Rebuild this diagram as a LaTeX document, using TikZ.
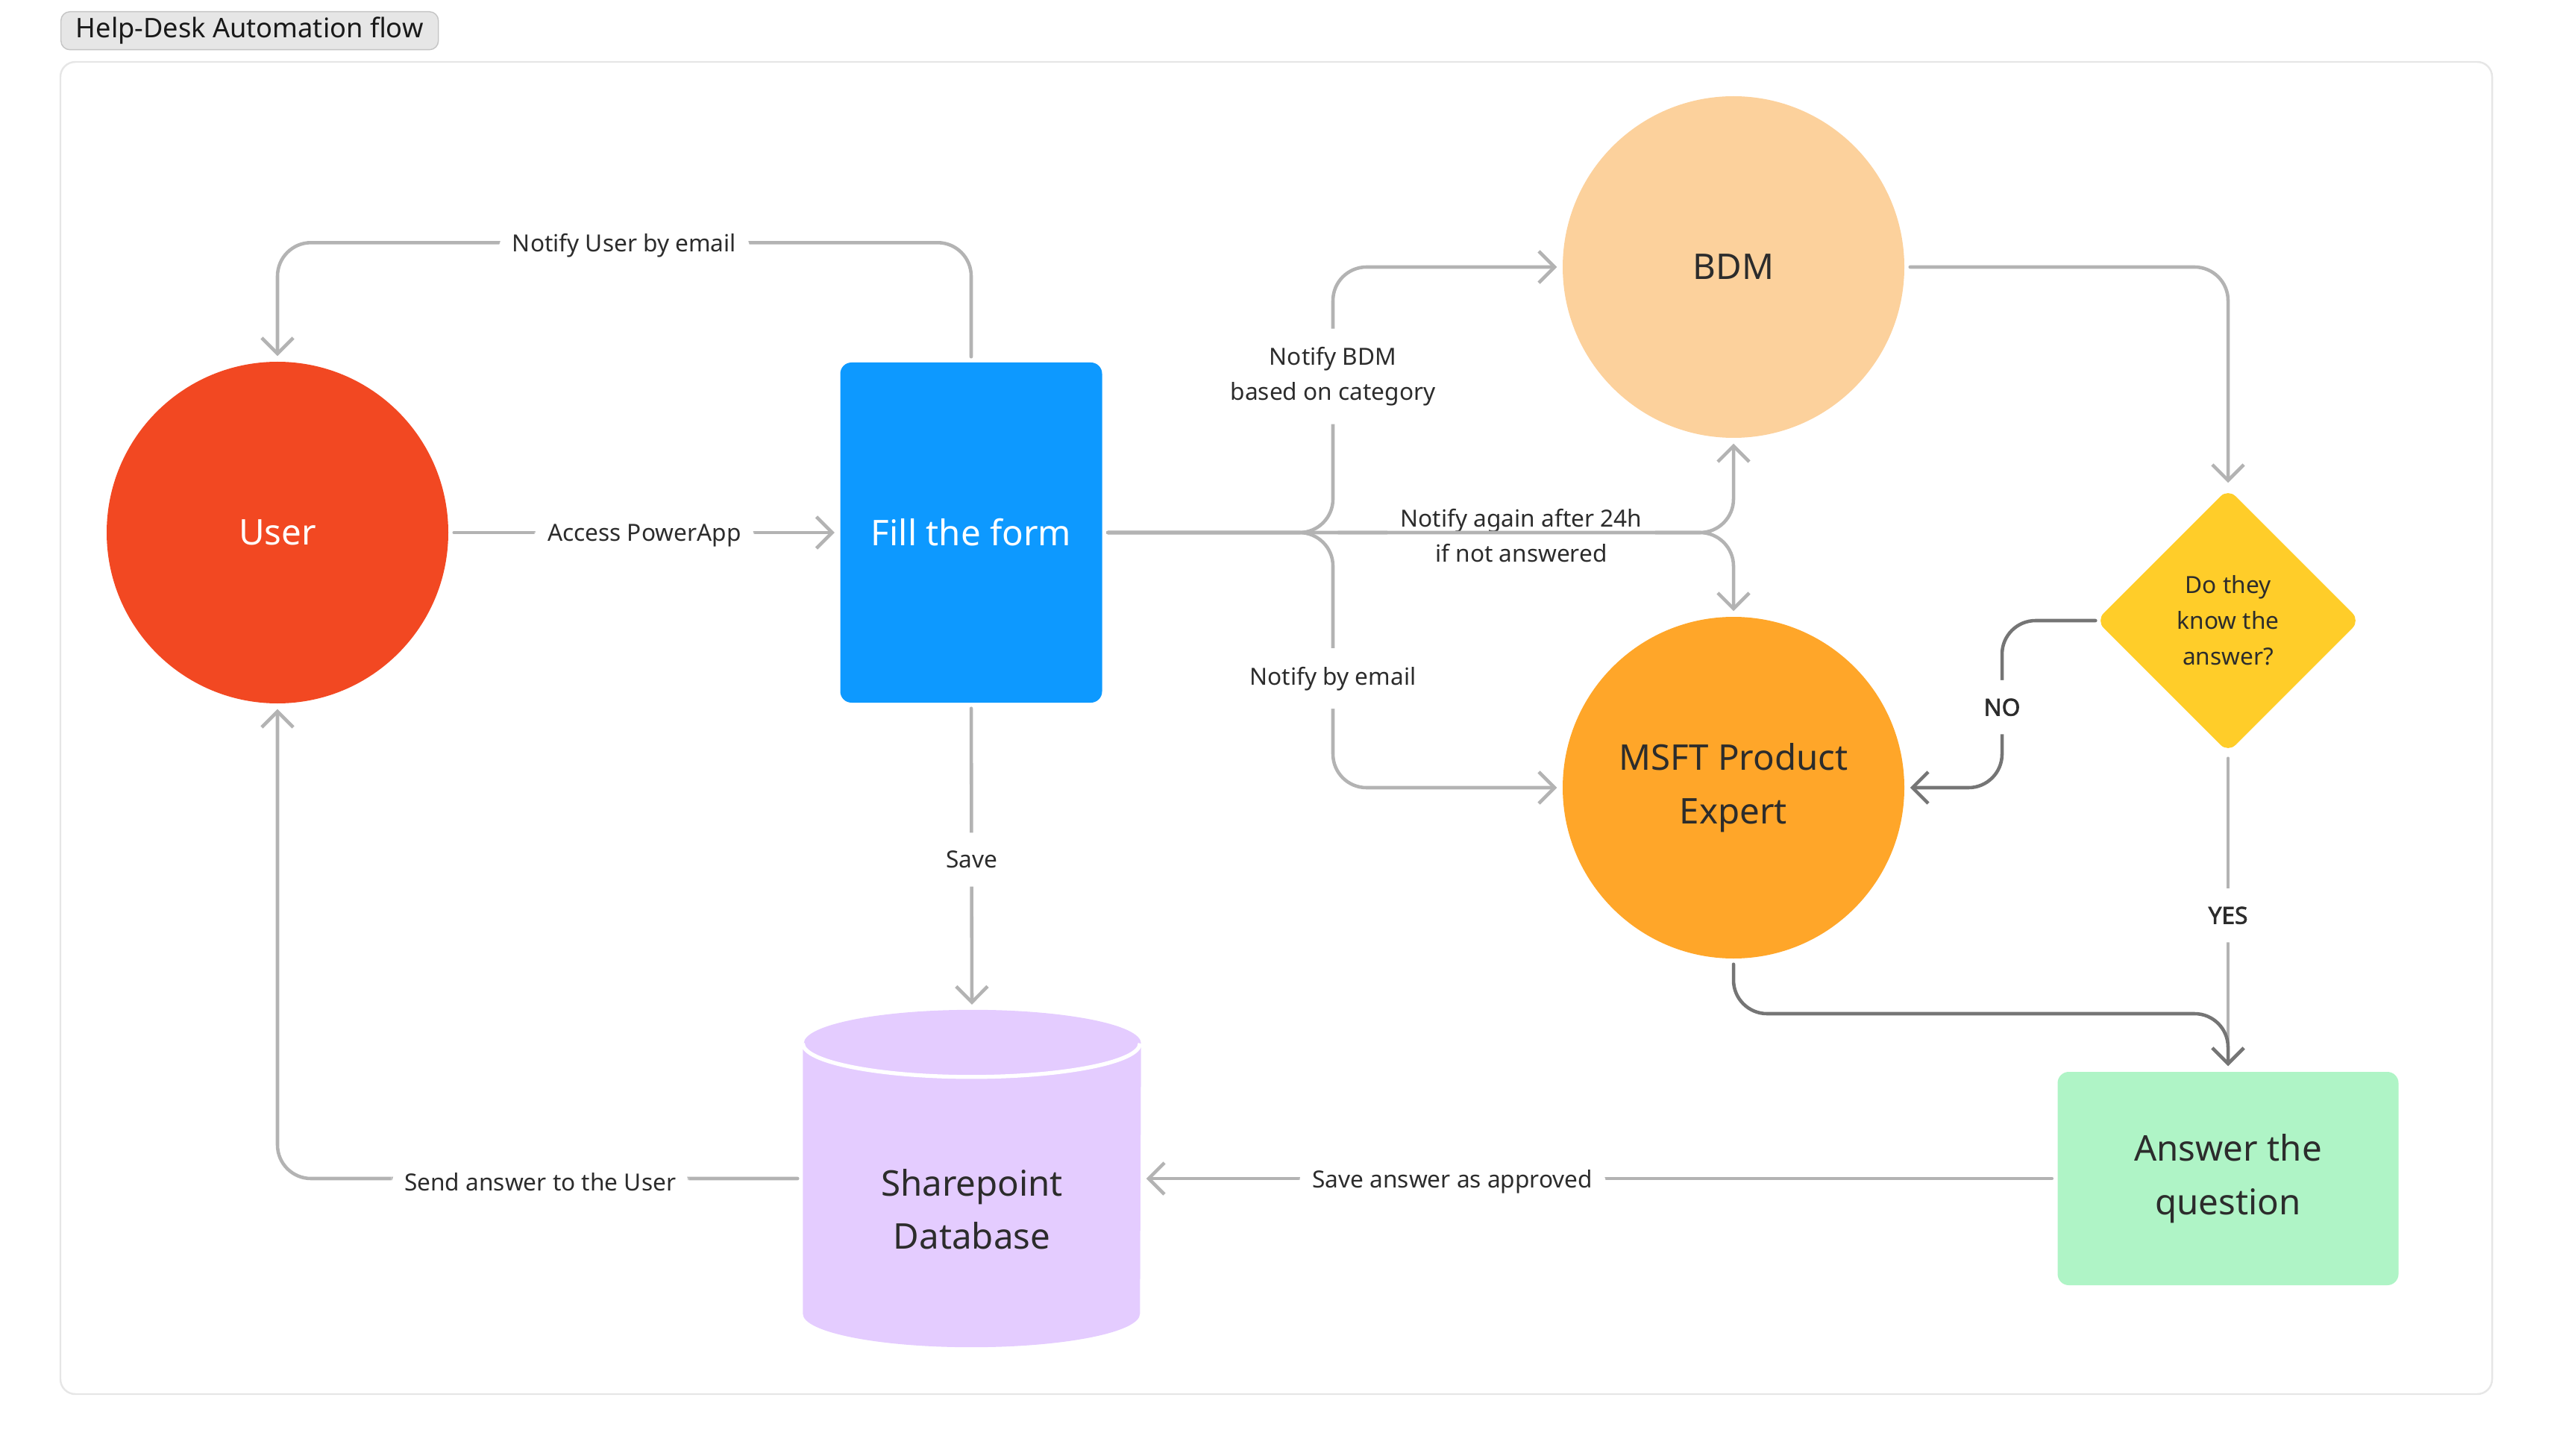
\documentclass[tikz,border=0pt]{standalone}
\usepackage{fontspec}
\setmainfont{Noto Sans}
\newfontfamily\yesnofont{Noto Sans}[FakeBold=2.2]
\usetikzlibrary{shapes.geometric}
\usetikzlibrary{arrows.meta}
\definecolor{userred}{HTML}{F24822}
\definecolor{formblue}{HTML}{0D99FF}
\definecolor{bdmpeach}{HTML}{FCD19C}
\definecolor{msftorange}{HTML}{FFA629}
\definecolor{askyellow}{HTML}{FFCD29}
\definecolor{answergreen}{HTML}{AFF4C6}
\definecolor{dbpurple}{HTML}{E4CCFF}
\definecolor{linegray}{HTML}{B3B3B3}
\definecolor{linedark}{HTML}{757575}
\definecolor{inkgray}{HTML}{2C2C2C}
\definecolor{framegray}{HTML}{E6E6E6}
\definecolor{tagborder}{HTML}{C4C4C4}

\begin{document}
\begin{tikzpicture}[
bigtext/.style={font=\fontsize{13.5}{20.3}\selectfont,text=inkgray,align=center,inner sep=0pt},
roundnode/.style={bigtext,circle,minimum size=4.58cm},
lbl/.style={fill=white,font=\fontsize{9}{13.4}\selectfont,text=inkgray,align=center,inner xsep=5pt,inner ysep=7pt,yshift=-1.2pt},
lblbold/.style={lbl,font=\yesnofont\fontsize{9}{13.4}\selectfont},
flow/.style={draw=linegray,line width=1.3pt,line cap=round,rounded corners=0.45cm,shorten <=2pt,shorten >=2pt,-{Straight Barb[length=6pt,width=12pt]}},
darkflow/.style={flow,draw=linedark}
]
\useasboundingbox (0,0) rectangle (34.24,-19.52);
\node[anchor=north west,draw=tagborder,fill=framegray,rounded corners=0.12cm,minimum width=5.06cm,minimum height=0.51cm,inner sep=0pt,font=\fontsize{10.3}{12}\selectfont,text=black!90] (title) at (0.81,-0.15) {Help-Desk Automation flow};
\draw[framegray,line width=0.7pt,rounded corners=0.2cm] (0.81,-0.83) rectangle (33.41,-18.69);

\node[roundnode,fill=userred,text=white] (user) at (3.72,-7.14) {User};
\node[bigtext,fill=formblue,text=white,rounded corners=0.15cm,minimum width=3.51cm,minimum height=4.56cm] (form) at (13.02,-7.14) {Fill the form};
\node[roundnode,fill=bdmpeach] (bdm) at (23.24,-3.58) {BDM};
\node[roundnode,fill=msftorange] (msft) at (23.24,-10.56) {MSFT Product\\Expert};
\node[diamond,aspect=1,fill=askyellow,rounded corners=4pt,minimum width=3.54cm,minimum height=3.54cm,inner sep=0pt,font=\fontsize{9}{13.7}\selectfont,text=inkgray,align=center] (ask) at (29.87,-8.32) {Do they\\know the\\answer?};
\node[bigtext,fill=answergreen,rounded corners=0.15cm,minimum width=4.57cm,minimum height=2.86cm] (ans) at (29.87,-15.80) {Answer the\\question};
\node[minimum width=4.52cm,minimum height=4.51cm,inner sep=0pt] (db) at (13.03,-15.80) {};
\fill[dbpurple] ([yshift=-0.45cm]db.north west) -- ([yshift=0.45cm]db.south west) arc[start angle=180,end angle=360,x radius=2.26cm,y radius=0.45cm] -- ([yshift=-0.45cm]db.north east) arc[start angle=0,end angle=180,x radius=2.26cm,y radius=0.45cm] -- cycle;
\draw[white,line width=1.5pt] ([yshift=-0.45cm]db.north west) arc[start angle=180,end angle=360,x radius=2.26cm,y radius=0.45cm];
\node[bigtext] (dbtext) at (13.03,-16.21) {Sharepoint\\Database};

\coordinate (split) at (17.87,-7.14);
\coordinate (join) at (23.24,-7.14);
\coordinate (nobend) at (26.84,-8.32);
\coordinate (answerbend) at (23.24,-13.59);

\draw[flow] (user) -- node[lbl]{Access PowerApp} (form);
\draw[flow] (form.north) -- ++(0,1.6) -| node[lbl,pos=0.25]{Notify User by email} (user.north);
\draw[flow] (form.east) -- (split) |- node[lbl,pos=0.3]{Notify BDM\\based on category} (bdm.west);
\draw[flow] (form.east) -- (split) |- node[lbl,pos=0.28]{Notify by email} (msft.west);
\draw[flow] (form.east) -- (split) -- node[lbl,pos=0.47]{Notify again after 24h\\if not answered} (join) -- (bdm.south);
\draw[flow] (split) -- (join) -- (msft.north);
\draw[flow] (form.south) -- node[lbl]{Save} (db.north);
\draw[flow] (bdm.east) -| (ask.north);
\draw[flow] (ask.south) -- node[lblbold]{YES} (ans.north);
\draw[darkflow,shorten <=0pt] (ask.west) -- (nobend) |- node[lblbold,pos=0.25]{NO} (msft.east);
\draw[darkflow] (msft.south) -- (answerbend) -| (ans.north);
\draw[flow] (ans.west) -- node[lbl,pos=0.66]{Save answer as approved} (db.east);
\draw[flow] (db.west) -| node[lbl,pos=0.25]{Send answer to the User} (user.south);

\end{tikzpicture}
\end{document}
